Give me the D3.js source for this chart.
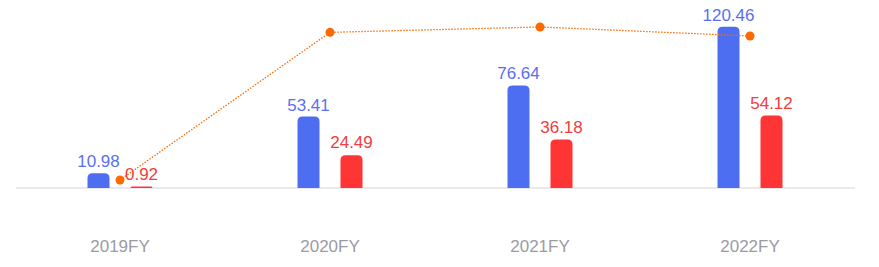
<!DOCTYPE html>
<html>
<head>
<meta charset="utf-8">
<script src="https://cdn.jsdelivr.net/npm/d3@7"></script>
<style>
	body { margin: 0; background: #fff; }
	svg { display: block; font-family: "Liberation Sans", Arial, sans-serif; }
</style>
</head>
<body>
<svg></svg>
<script>
// chart data
const years = ["2019FY", "2020FY", "2021FY", "2022FY"]
const blueValues = [10.98, 53.41, 76.64, 120.46]
const redValues = [0.92, 24.49, 36.18, 54.12]
const lineValues = [8.38, 45.85, 47.21, 44.93]

const svg = d3.select("svg")
	.attr("width", 879)
	.attr("height", 267)

// scales
const xScale = d3.scaleBand()
	.domain(years)
	.range([15, 855])

const barScale = d3.scaleLinear()
	.domain([0, 130])
	.range([188, 14])

const lineScale = d3.scaleLinear()
	.domain([0, 50])
	.range([213, 16])

const barW = 22
const offset = 21.5

// rounded top bar path
const barPath = function (x, y, w, h, r) {
	r = Math.min(r, h, w / 2)
	if (h <= 0) return ""
	return `M${x},${y + h}V${y + r}Q${x},${y} ${x + r},${y}H${x + w - r}Q${x + w},${y} ${x + w},${y + r}V${y + h}Z`
}

// axis
const xAxis = d3.axisBottom(xScale)
	.tickSize(0)
	.tickPadding(52)

const axisG = svg.append("g")
	.attr("class", "xAxis")
	.attr("transform", "translate(0,188)")
	.call(xAxis)

axisG.select(".domain")
	.attr("stroke", "#e3e3e6")
	.attr("stroke-width", 1.5)
	.attr("d", "M16,0H855")

axisG.selectAll("text")
	.attr("fill", "#9b9ba6")
	.attr("font-size", 17)
	.attr("font-family", "Liberation Sans, Arial, sans-serif")

const cx = d => xScale(d) + xScale.bandwidth() / 2

// blue bars
svg.append("g")
	.selectAll("path")
	.data(blueValues)
	.enter()
	.append("path")
	.attr("fill", "#4e6ef2")
	.attr("d", (d, i) => {
		const x = cx(years[i]) - offset - barW / 2
		const y = barScale(d)
		return barPath(x, y, barW, barScale(0) - y, 5)
	})

// red bars
svg.append("g")
	.selectAll("path")
	.data(redValues)
	.enter()
	.append("path")
	.attr("fill", "#ff3434")
	.attr("d", (d, i) => {
		const x = cx(years[i]) + offset - barW / 2
		const y = Math.min(barScale(d), barScale(0) - 1.5)
		return barPath(x, y, barW, barScale(0) - y, 5)
	})

// line
const line = d3.line()
	.x((d, i) => cx(years[i]))
	.y(d => lineScale(d))

svg.append("path")
	.attr("d", line(lineValues))
	.attr("fill", "none")
	.attr("stroke", "#ff6a00")
	.attr("stroke-width", 1.3)
	.attr("stroke-dasharray", "1.5,1.5")

svg.append("g")
	.selectAll("circle")
	.data(lineValues)
	.enter()
	.append("circle")
	.attr("cx", (d, i) => cx(years[i]))
	.attr("cy", d => lineScale(d))
	.attr("r", 4.5)
	.attr("fill", "#ff6a00")

// labels
svg.append("g")
	.selectAll("text")
	.data(blueValues)
	.enter()
	.append("text")
	.attr("x", (d, i) => cx(years[i]) - offset)
	.attr("y", d => barScale(d) - 6)
	.attr("text-anchor", "middle")
	.attr("font-size", 17)
	.attr("fill", "#5a6ff0")
	.text(d => d.toFixed(2))

svg.append("g")
	.selectAll("text")
	.data(redValues)
	.enter()
	.append("text")
	.attr("x", (d, i) => cx(years[i]) + offset)
	.attr("y", d => barScale(d) - 7)
	.attr("text-anchor", "middle")
	.attr("font-size", 17)
	.attr("fill", "#f53b3b")
	.text(d => d.toFixed(2))
</script>
</body>
</html>
